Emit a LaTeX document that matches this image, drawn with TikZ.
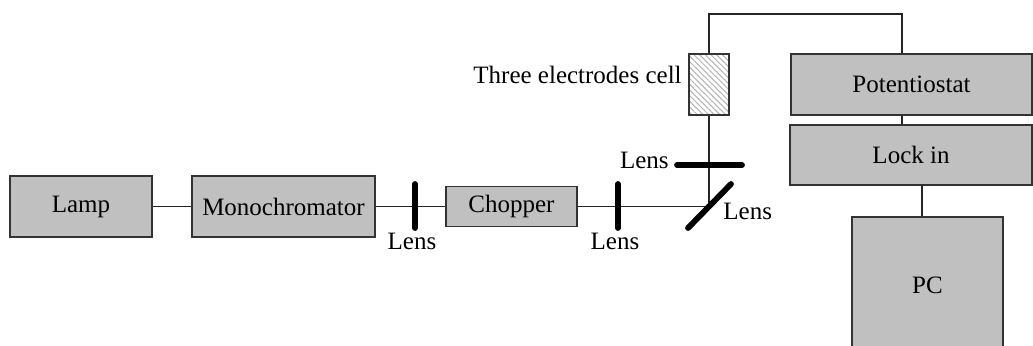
\documentclass[tikz,border=0pt]{standalone}
\usepackage{fontspec}
\setmainfont{Liberation Serif}
\usetikzlibrary{patterns.meta}
\definecolor{boxgray}{RGB}{192,192,192}
\begin{document}
\begin{tikzpicture}[x=0.5pt,y=-0.5pt,
  font=\fontsize{12.5}{14}\selectfont,
  box/.style={draw=black!80,line width=0.6pt,fill=boxgray,inner sep=0pt},
  conn/.style={line width=0.55pt,draw=black!85},
  lensbar/.style={line width=2.9pt,line cap=round,black},
  lbl/.style={inner sep=1pt}]
\useasboundingbox (0,0) rectangle (1033,345);
\clip (0,0) rectangle (1033,345);
% boxes
\node[box,minimum width=71pt,minimum height=30.5pt] (lamp) at (81,206.5) {Lamp};
\node[box,minimum width=91.5pt,minimum height=30.5pt] (mono) at (283.5,206.5) {Monochromator};
\node[box,minimum width=65.5pt,minimum height=20pt] (chop) at (511.5,206.5) {Chopper};
\node[draw=black!80,line width=0.6pt,fill=white,
      pattern={Lines[angle=-45,distance=2pt,line width=0.5pt]},pattern color=gray!60,
      minimum width=20pt,minimum height=30.5pt,inner sep=0pt] (cell) at (709,84.5) {};
\node[box,minimum width=120.5pt,minimum height=30.5pt] (pot) at (911.5,84.5) {Potentiostat};
\node[box,minimum width=121pt,minimum height=30pt] (lock) at (911,155) {Lock in};
\node[box,minimum width=75.5pt,minimum height=68pt] (pc) at (927.5,285) {PC};
% helper coordinates
\coordinate (mir) at (709,206.5);
\coordinate (ctop) at (709,14);
\coordinate (ptop) at (902,14);
\coordinate (lp) at (922,200);
% lenses
\coordinate (l1a) at (415,184); \coordinate (l1b) at (415,228);
\coordinate (l2a) at (618,184); \coordinate (l2b) at (618,228);
\coordinate (l3a) at (677,165); \coordinate (l3b) at (742,165);
\coordinate (l4a) at (688,228); \coordinate (l4b) at (731,184);
% connectors
\draw[conn] (lamp.east) -- (mono.west);
\draw[conn] (mono.east) -- (chop.west);
\draw[conn] (chop.east) -- (mir);
\draw[conn] (mir) -- (cell.south);
\draw[conn] (cell.north) -- (ctop) -- (ptop) -- (pot.north -| ptop);
\draw[conn] (pot.south -| ptop) -- (lock.north -| ptop);
\draw[conn] (lock.south -| lp) -- (pc.north -| lp);
% lens bars
\draw[lensbar] (l1a) -- (l1b);
\draw[lensbar] (l2a) -- (l2b);
\draw[lensbar] (l3a) -- (l3b);
\draw[lensbar] (l4a) -- (l4b);
% labels
\node[lbl] (t1) at (412,241) {Lens};
\node[lbl] (t2) at (615,241) {Lens};
\node[lbl,anchor=east] (t3) at (671,160) {Lens};
\node[lbl,anchor=west] (t4) at (721,211) {Lens};
\node[lbl,anchor=east] (t5) at (684,75) {Three electrodes cell};
\end{tikzpicture}
\end{document}
